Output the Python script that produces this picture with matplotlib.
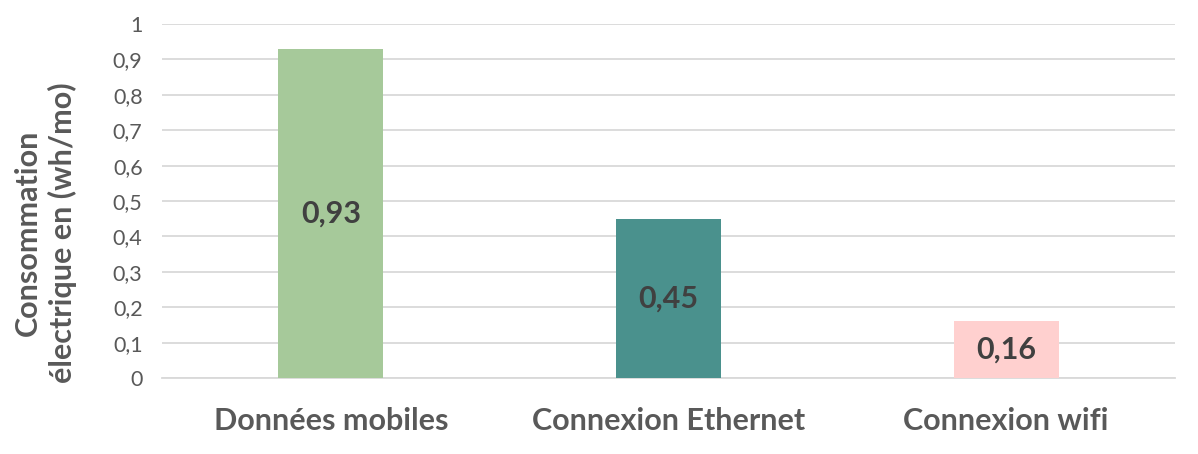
import numpy as np
import matplotlib.pyplot as plt
from matplotlib.ticker import FuncFormatter

# donnees
categories = ["Données mobiles", "Connexion Ethernet", "Connexion wifi"]
valeurs = [0.93, 0.45, 0.16]
couleurs = ["#A6C99A", "#4A918D", "#FFD0CF"]
ticks_y = np.arange(0, 1.01, 0.1)

plt.rcParams['font.family'] = ['Lato', 'DejaVu Sans']

fig = plt.figure(figsize=(11.98, 4.54), dpi=100)
ax = fig.add_axes([0.1352, 0.1674, 0.8456, 0.7797])

x = np.arange(len(categories))
ax.bar(x, valeurs, width=0.31, color=couleurs, zorder=3)

for xi, v in zip(x, valeurs):
    ax.text(xi, v / 2, f"{v:.2f}".replace(".", ","), ha="center", va="center",
            fontsize=22, fontweight="bold", color="#404040", zorder=4)

ax.set_xlim(-0.5, 2.5)
ax.set_ylim(0, 1)
ax.set_yticks(ticks_y)
ax.yaxis.set_major_formatter(FuncFormatter(lambda v, p: f"{v:.1f}".rstrip("0").rstrip(".").replace(".", ",") if v not in (0, 1) else str(int(round(v)))))
ax.yaxis.grid(True, color="#D9D9D9", linewidth=1.3, zorder=0)
ax.set_xticks(x)
ax.set_xticklabels(categories, fontsize=22, fontweight="bold", color="#595959")
ax.tick_params(axis="y", labelsize=15.5, labelcolor="#595959", length=0, pad=14)
ax.tick_params(axis="x", length=0, pad=21)
for s in ["top", "right", "left"]:
    ax.spines[s].set_visible(False)
ax.spines["bottom"].set_color("#D9D9D9")
ax.spines["bottom"].set_linewidth(1.3)

ax.set_ylabel("Consommation\nélectrique en (wh/mo)", fontsize=22, fontweight="bold",
              color="#595959", linespacing=1.25)
ax.yaxis.set_label_coords(-0.084, 0.41)

plt.savefig("out.png", dpi=100)
